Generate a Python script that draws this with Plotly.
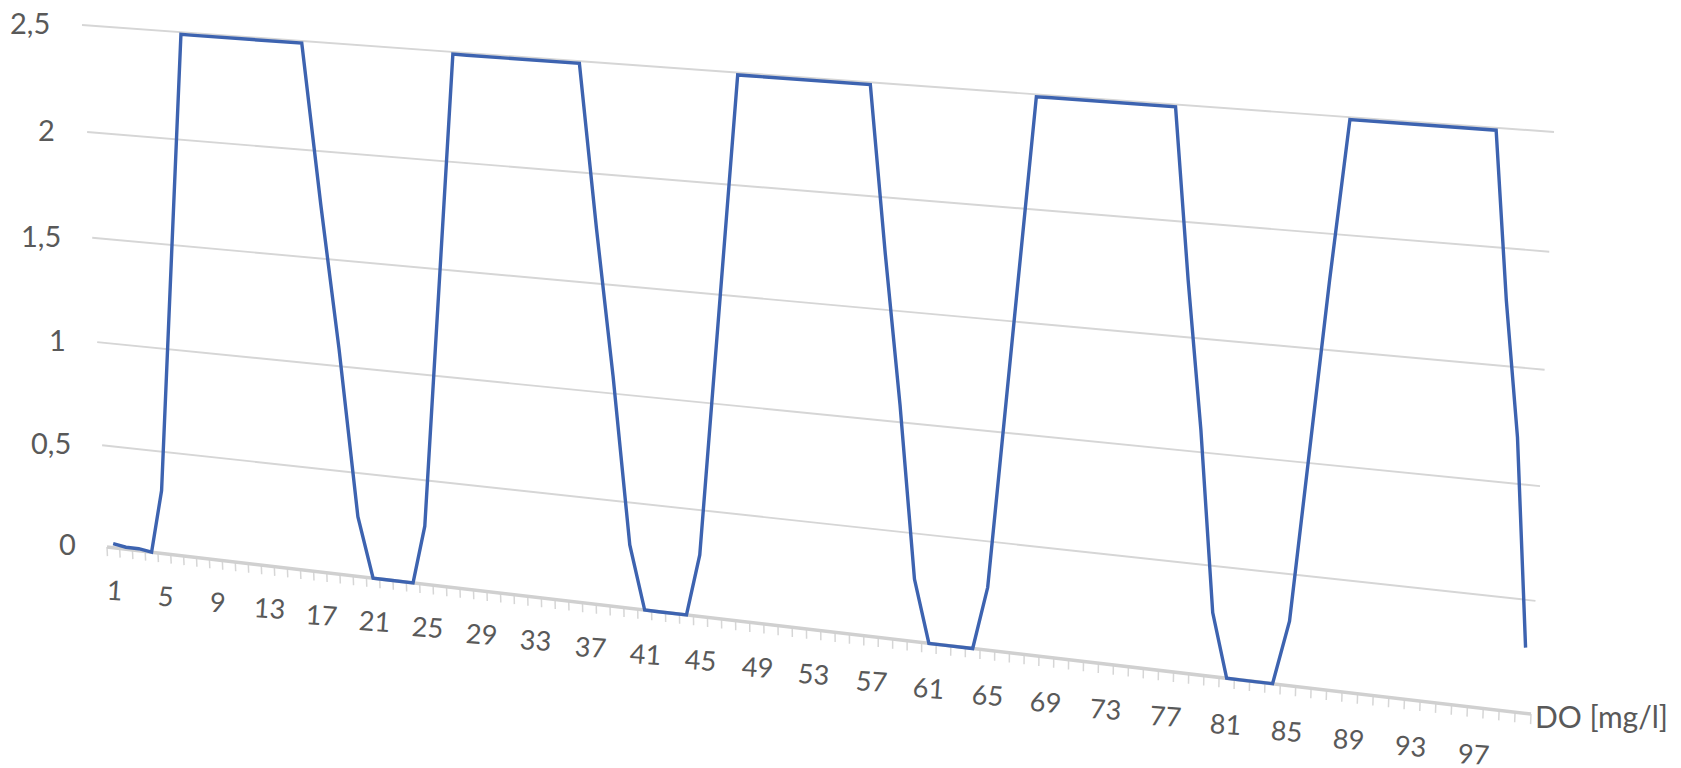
import numpy as np
import plotly.graph_objects as go

# ---------------- data ----------------
categories = list(range(1, 101))
do_values = [
    0.02, 0.01, 0.01, 0.00, 0.31, 1.04, 1.77,
    2.49, 2.49, 2.49, 2.49, 2.49, 2.49, 2.49, 2.49, 2.49, 2.49,
    1.75, 1.08, 0.29,
    0.00, 0.00, 0.00, 0.00, 0.28, 1.02, 1.76,
    2.49, 2.49, 2.49, 2.49, 2.49, 2.49, 2.49, 2.49, 2.49, 2.49,
    1.75, 1.08, 0.30,
    0.00, 0.00, 0.00, 0.00, 0.29, 1.02, 1.76,
    2.49, 2.49, 2.49, 2.49, 2.49, 2.49, 2.49, 2.49, 2.49, 2.49,
    1.75, 1.08, 0.29,
    0.00, 0.00, 0.00, 0.00, 0.29, 1.02, 1.76,
    2.49, 2.49, 2.49, 2.49, 2.49, 2.49, 2.49, 2.49, 2.49, 2.49,
    1.75, 1.10, 0.29,
    0.00, 0.00, 0.00, 0.00, 0.29, 1.05, 1.80,
    2.49, 2.49, 2.49, 2.49, 2.49, 2.49, 2.49, 2.49, 2.49, 2.49,
    1.78, 1.20, 0.29,
]
x_tick_labels = ["1", "5", "9", "13", "17", "21", "25", "29", "33", "37", "41", "45", "49",
                 "53", "57", "61", "65", "69", "73", "77", "81", "85", "89", "93", "97"]
y_tick_values = [0, 0.5, 1, 1.5, 2, 2.5]
y_tick_labels = ["0", "0,5", "1", "1,5", "2", "2,5"]
x_axis_title = "DO [mg/l]"

# ---------------- perspective (Excel 3-D rotation of the chart) ----------------
N_SLOTS = len(categories)
Y_MAX = 2.5
W, H = 1681, 768
# plot-area corners on screen: (u,v) = (0,0),(1,0),(0,1),(1,1)
src = [(0, 0), (1, 0), (0, 1), (1, 1)]
dst = [(107, 547), (1531, 714), (82, 25), (1554, 132)]
A, b = [], []
for (u, v), (X, Y) in zip(src, dst):
    A.append([u, v, 1, 0, 0, 0, -u * X, -v * X]); b.append(X)
    A.append([0, 0, 0, u, v, 1, -u * Y, -v * Y]); b.append(Y)
hp = np.linalg.solve(np.array(A, float), np.array(b, float))
HM = np.array([[hp[0], hp[1], hp[2]], [hp[3], hp[4], hp[5]], [hp[6], hp[7], 1.0]])


def project(cat, val):
    u = (cat - 0.5) / N_SLOTS
    v = val / Y_MAX
    p = HM @ np.array([u, v, 1.0])
    return p[0] / p[2], p[1] / p[2]


GRID = "#D6D6D6"
TEXT = "#595959"
LINE = "#3D63B0"
FONT = "Lato"

fig = go.Figure()

# gridlines
gx, gy = [], []
for yv in y_tick_values[1:]:
    for c in (0.5, N_SLOTS + 0.5):
        x, y = project(c, yv)
        gx.append(x); gy.append(y)
    gx.append(None); gy.append(None)
fig.add_trace(go.Scatter(x=gx, y=gy, mode="lines", line=dict(color=GRID, width=1.9),
                         hoverinfo="skip", showlegend=False))

# category axis + tick marks
tx, ty = [], []
for k in range(N_SLOTS + 1):
    c = 0.5 + k
    x0, y0 = project(c, 0)
    x1, y1 = project(c, -0.045)
    tx += [x0, x1, None]; ty += [y0, y1, None]
fig.add_trace(go.Scatter(x=tx, y=ty, mode="lines", line=dict(color=GRID, width=1.5),
                         hoverinfo="skip", showlegend=False))
ax0 = project(0.5, 0); ax1 = project(N_SLOTS + 0.5, 0)
fig.add_trace(go.Scatter(x=[ax0[0], ax1[0]], y=[ax0[1], ax1[1]], mode="lines",
                         line=dict(color="#D0D0D0", width=3.5), hoverinfo="skip", showlegend=False))

# data line
pts = [project(c, v) for c, v in zip(categories, do_values)]
fig.add_trace(go.Scatter(x=[p[0] for p in pts], y=[p[1] for p in pts], mode="lines",
                         line=dict(color=LINE, width=3.4), showlegend=False))

annotations = []
for lab in x_tick_labels:
    c = int(lab)
    x, y = project(c, -0.205)
    annotations.append(dict(x=x, y=y, xref="x", yref="y", text=lab, showarrow=False,
                            xanchor="center", yanchor="middle", textangle=4,
                            font=dict(family=FONT, size=27, color=TEXT)))
for val, lab in zip(y_tick_values, y_tick_labels):
    x, y = project(-1.8, val)
    annotations.append(dict(x=x, y=y, xref="x", yref="y", text=lab, showarrow=False,
                            xanchor="right", yanchor="middle",
                            font=dict(family=FONT, size=29, color=TEXT)))
x, y = project(N_SLOTS + 0.6, -0.01)
annotations.append(dict(x=x, y=y, xref="x", yref="y", text=x_axis_title, showarrow=False,
                        xanchor="left", yanchor="middle",
                        font=dict(family=FONT, size=30, color=TEXT)))

fig.update_layout(
    width=W, height=H, margin=dict(l=0, r=0, t=0, b=0),
    paper_bgcolor="white", plot_bgcolor="white",
    xaxis=dict(range=[0, W], visible=False, fixedrange=True),
    yaxis=dict(range=[H, 0], visible=False, fixedrange=True),
    annotations=annotations, showlegend=False,
)
fig.write_html("out.html", config={"displayModeBar": False},
               post_script="document.body.style.margin='0px';document.body.style.overflow='hidden';")
